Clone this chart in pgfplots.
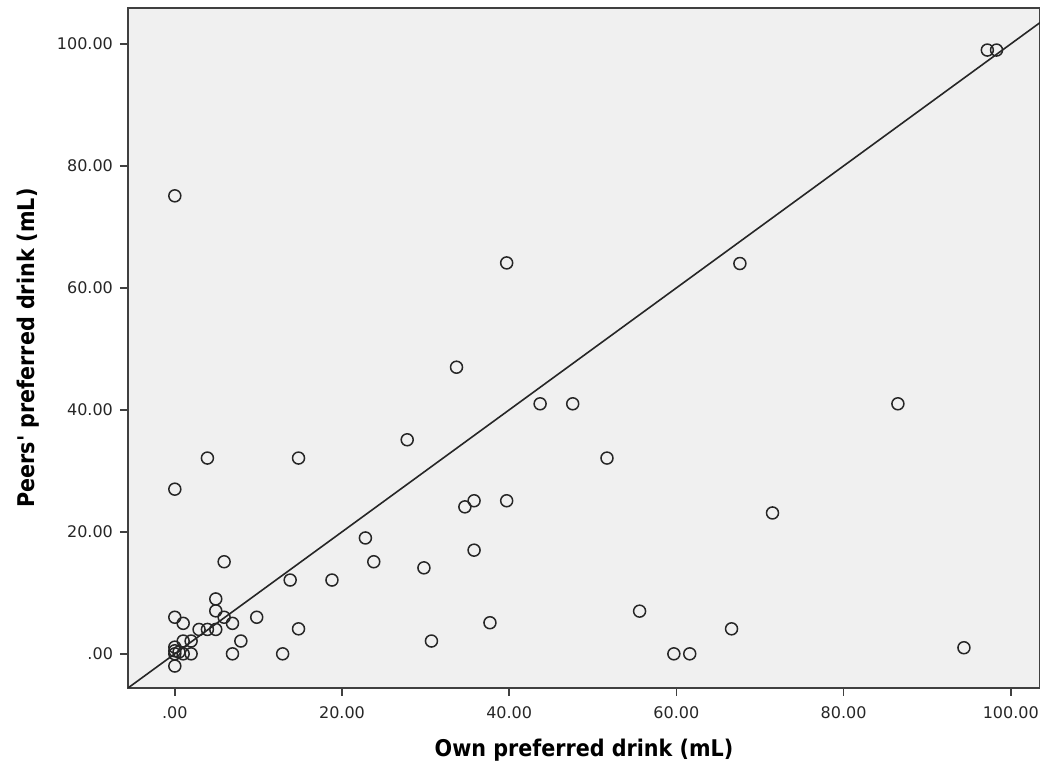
\documentclass[border=0pt]{standalone}
\usepackage{fontspec}
\setmainfont{DejaVu Sans}
\newfontfamily\condfont{DejaVu Sans Condensed}
\usepackage{pgfplots}
\pgfplotsset{compat=1.18}
\definecolor{plotbg}{HTML}{F0F0F0}
\definecolor{frame}{HTML}{404040}
\begin{document}
\begin{tikzpicture}
\begin{axis}[
  name=ax,
  scale only axis,
  width=456pt, height=340pt,
  xmin=-5.6, xmax=103.5,
  ymin=-5.6, ymax=105.9,
  axis background/.style={fill=plotbg},
  axis line style={frame, line width=1pt},
  xtick={0,20,40,60,80,100},
  ytick={0,20,40,60,80,100},
  xticklabels={.00,20.00,40.00,60.00,80.00,100.00},
  yticklabels={.00,20.00,40.00,60.00,80.00,100.00},
  xtick pos=bottom, ytick pos=left,
  tick align=outside,
  major tick length=4pt,
  tick style={frame, line width=0.8pt},
  /pgf/number format/assume math mode=true,
  ticklabel style={font=\fontsize{8}{9}\selectfont, text=black!85},
  xticklabel style={yshift=-2pt},
  xlabel={Own preferred drink (mL)},
  ylabel={Peers' preferred drink (mL)},
  label style={font=\condfont\bfseries\fontsize{11.5}{13}\selectfont},
  xlabel style={yshift=-3pt},
  ylabel style={yshift=2pt},
]
\addplot[black!85, line width=0.8pt, no marks] coordinates {(-10,-10)(110,110)};
\addplot[only marks, mark=o, mark size=3pt, mark options={black!85, line width=0.75pt}]
coordinates {
(97.2,99)(98.3,99)
(0,75.1)
(39.7,64.1)(67.6,64)
(33.7,47)
(43.7,41)(47.6,41)(86.5,41)
(27.8,35.1)
(3.9,32.1)(14.8,32.1)(51.7,32.1)
(0,27)
(34.7,24.1)(35.8,25.1)(39.7,25.1)
(71.5,23.1)
(22.8,19)
(35.8,17)
(23.8,15.1)(5.9,15.1)
(29.8,14.1)
(13.8,12.1)(18.8,12.1)
(4.9,9)
(4.9,7.05)(55.6,7)
(5.9,6)(0,6)(9.8,6)
(1,5)(6.9,5)(37.7,5.1)
(14.8,4.1)(66.6,4.1)(2.9,4)(3.9,4)(4.9,4)
(30.7,2.1)(7.9,2.1)(1.95,2.1)(1,2.1)
(0,1.1)(94.4,1)
(0,0)(0,0.5)(1,0)(0.5,0.3)(1.95,0)(6.9,0)(12.9,0)(59.7,0)(61.6,0)
(0,-2)
};
\end{axis}
\pgfresetboundingbox
\path ([xshift=-64pt,yshift=-38pt]ax.south west) rectangle ([yshift=4pt]ax.north east);
\end{tikzpicture}
\end{document}
